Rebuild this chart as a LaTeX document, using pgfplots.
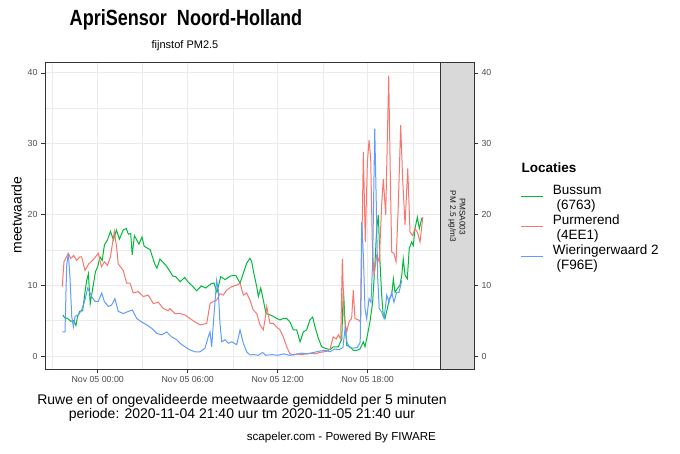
\documentclass[border=0pt]{standalone}
\usepackage{pgfplots}
\pgfplotsset{compat=1.18}
\usepackage{fontspec}
\setmainfont{Liberation Sans}
\definecolor{cBussum}{HTML}{00BA38}
\definecolor{cPurm}{HTML}{F8766D}
\definecolor{cWier}{HTML}{619CFF}
\definecolor{grid92}{gray}{0.92}
\definecolor{g20}{gray}{0.2}
\definecolor{g30}{gray}{0.3}
\definecolor{g10}{gray}{0.1}
\definecolor{g85}{gray}{0.85}

\pgfplotstableread{
x y
-2.33 5.8
-2.2 5.4
-2.0 5.3
-1.8 4.9
-1.6 5.0
-1.45 4.3
-1.35 5.5
-1.2 6.3
-1.0 6.4
-0.85 9.0
-0.73 10.7
-0.62 11.6
-0.5 7.4
-0.35 9.3
-0.15 11.9
0.0 12.6
0.15 14.0
0.3 13.5
0.45 15.7
0.65 16.4
0.85 17.6
1.05 16.4
1.25 17.8
1.45 16.5
1.7 17.8
1.9 18.0
2.05 17.2
2.2 17.3
2.3 14.3
2.45 17.0
2.75 15.8
2.95 16.8
3.1 15.5
3.5 15.0
3.8 13.0
3.95 12.4
4.15 13.7
4.55 12.8
4.8 12.0
5.0 11.3
5.2 11.2
5.5 10.5
5.8 11.1
6.05 10.4
6.35 9.8
6.6 9.2
6.9 9.9
7.2 9.6
7.55 10.2
7.75 10.3
7.95 9.0
8.2 11.2
8.5 10.8
8.85 11.3
9.2 11.4
9.49 10.3
9.71 11.7
9.93 13.1
10.15 13.8
10.27 13.3
10.37 12.1
10.6 9.8
10.71 8.4
10.87 9.6
11.04 7.9
11.22 6.0
11.49 5.8
11.71 5.6
11.93 5.3
12.15 5.1
12.37 5.3
12.6 5.3
12.82 4.8
13.04 3.7
13.27 3.7
13.49 2.0
13.71 3.4
13.93 3.7
14.15 5.1
14.33 5.5
14.49 4.1
14.71 2.5
14.93 1.3
15.15 1.1
15.49 0.9
15.7 1.3
16.04 1.3
16.27 2.4
16.38 9.5
16.49 4.8
16.6 1.5
16.82 1.3
17.04 0.8
17.27 0.8
17.49 1.0
17.71 2.0
17.82 1.3
17.93 2.4
18.15 4.8
18.33 7.6
18.49 13.3
18.6 18.0
18.71 19.9
18.82 13.3
18.93 8.6
19.04 5.7
19.15 5.3
19.31 6.7
19.44 8.1
19.6 8.6
19.71 10.9
19.82 9.0
19.97 9.5
20.15 10.0
20.27 11.4
20.37 13.7
20.49 11.4
20.64 10.9
20.77 15.2
20.93 16.1
21.04 15.6
21.15 18.0
21.31 19.6
21.44 18.0
21.6 19.4
21.67 19.6
}\bussum

\pgfplotstableread{
x y
-2.36 9.8
-2.25 13.3
-1.96 14.5
-1.8 13.8
-1.6 14.2
-1.4 13.5
-1.2 14.0
-1.07 14.0
-0.85 12.1
-0.6 13.0
-0.3 13.6
0.04 14.5
0.25 12.6
0.45 13.3
0.65 12.8
0.85 14.0
1.11 17.6
1.26 15.4
1.37 13.0
1.7 12.1
1.93 10.3
2.15 10.3
2.37 8.9
2.7 9.1
3.04 8.4
3.37 8.6
3.71 7.4
4.04 7.6
4.37 6.7
4.7 6.4
4.82 6.7
5.15 6.0
5.49 6.0
5.82 5.8
6.15 5.3
6.49 4.8
6.82 4.4
7.27 4.6
7.49 7.4
7.71 7.7
7.93 7.9
8.15 8.8
8.37 8.6
8.6 9.3
8.93 9.8
9.27 10.0
9.49 10.3
9.71 8.6
9.93 8.9
10.15 7.9
10.37 6.5
10.6 6.0
10.82 4.4
11.04 3.7
11.22 6.0
11.27 7.0
11.49 4.6
11.71 4.6
11.93 4.1
12.15 3.7
12.37 2.7
12.6 1.3
12.82 0.3
13.0 0.2
13.3 0.3
13.6 0.2
13.9 0.3
14.2 0.4
14.5 0.3
14.8 0.5
15.1 0.6
15.35 0.7
15.49 1.0
15.7 2.7
15.9 2.4
16.05 3.0
16.2 2.4
16.31 13.7
16.42 5.7
16.6 3.4
16.75 4.8
16.93 5.3
17.04 9.3
17.15 5.3
17.37 5.1
17.53 4.8
17.71 28.8
17.84 16.1
17.98 27.4
18.09 30.5
18.2 27.9
18.31 15.6
18.42 11.4
18.6 14.2
18.77 13.3
18.93 21.3
19.04 25.0
19.2 19.9
19.4 39.6
19.53 22.7
19.6 14.7
19.75 14.5
19.89 13.3
20.04 21.3
20.2 32.6
20.33 25.0
20.49 18.5
20.67 26.5
20.82 17.5
21.0 17.0
21.15 18.0
21.31 17.5
21.49 16.1
21.67 19.6
}\purmerend

\pgfplotstableread{
x y
-2.36 3.4
-2.18 3.4
-2.07 12.7
-1.96 14.5
-1.85 11.2
-1.73 5.6
-1.62 4.1
-1.51 5.6
-1.29 5.8
-1.07 6.5
-0.85 7.9
-0.67 9.6
-0.4 8.4
-0.18 7.7
0.04 7.7
0.27 8.9
0.44 7.7
0.71 7.0
0.93 7.2
1.15 8.1
1.37 6.3
1.71 6.0
2.04 6.3
2.31 6.5
2.6 5.3
2.93 4.8
3.27 4.4
3.6 3.9
3.93 3.2
4.27 3.0
4.6 3.4
4.93 2.7
5.27 2.3
5.49 1.8
5.82 1.3
6.15 0.85
6.49 0.6
6.82 0.6
7.15 1.1
7.37 2.7
7.49 3.4
7.6 1.3
7.71 4.6
7.93 10.7
8.04 9.3
8.15 4.6
8.27 2.0
8.49 2.3
8.71 1.8
8.93 2.0
9.27 1.6
9.49 3.7
9.71 1.8
9.93 0.6
10.15 0.15
10.4 0.2
10.7 0.1
11.0 0.5
11.2 0.1
11.6 0.2
12.0 0.1
12.4 0.3
12.8 0.1
13.2 0.2
13.6 0.4
14.0 0.3
14.4 0.5
14.8 0.7
15.2 0.8
15.49 0.6
15.8 1.0
16.1 0.9
16.35 1.2
16.49 3.9
16.62 1.9
16.8 1.2
17.0 1.1
17.3 1.2
17.5 1.9
17.6 18.9
17.71 14.2
17.82 6.7
17.93 5.3
18.09 8.1
18.22 7.6
18.33 13.3
18.47 32.1
18.57 21.8
18.67 10.9
18.77 6.7
18.93 6.2
19.09 5.3
19.27 8.6
19.42 7.6
19.6 9.0
19.75 7.6
19.93 9.0
20.09 9.0
20.27 10.7
}\wieringer

\begin{document}
\begin{tikzpicture}
\useasboundingbox (0,0) rectangle (680pt,453pt);
\begin{axis}[
  at={(45pt,84pt)}, anchor=south west,
  width=395pt, height=307pt, scale only axis,
  xmin=-3.513, xmax=22.82, ymin=-1.836, ymax=41.53,
  axis line style={g20, line width=0.7pt},
  xtick={0,6,12,18},
  xticklabels={Nov 05 00:00,Nov 05 06:00,Nov 05 12:00,Nov 05 18:00},
  minor xtick={-3,3,9,15,21},
  ytick={0,10,20,30,40}, minor ytick={5,15,25,35},
  grid=both,
  major grid style={grid92, line width=0.8pt},
  minor grid style={grid92, line width=0.4pt},
  tick align=outside, xtick pos=bottom, ytick pos=left,
  major tick length=4pt, minor tick length=0pt,
  tick style={g20, line width=0.6pt},
  ticklabel style={font=\fontsize{8.8}{10}\selectfont, text=g30},
  /pgf/number format/assume math mode=true,
  clip=true,
]
\addplot[cBussum, line width=1pt] table[x=x,y=y] {\bussum};
\addplot[cPurm, line width=1pt] table[x=x,y=y] {\purmerend};
\addplot[cWier, line width=1pt] table[x=x,y=y] {\wieringer};
\end{axis}
\begin{axis}[
  at={(440pt,84pt)}, anchor=south west,
  width=34pt, height=307pt, scale only axis,
  xmin=0, xmax=1, ymin=-1.836, ymax=41.53,
  axis background/.style={fill=g85},
  axis line style={g20, line width=0.7pt},
  xtick=\empty,
  ytick={0,10,20,30,40},
  tick align=outside, ytick pos=right,
  major tick length=4pt,
  tick style={g20, line width=0.6pt},
  ticklabel style={font=\fontsize{8.8}{10}\selectfont, text=g30},
  /pgf/number format/assume math mode=true,
]
\end{axis}
\node[rotate=-90, align=center, text=g10, font=\fontsize{8.2}{9.5}\selectfont] at (457pt,236.5pt) {PMSA003\\PM 2.5 µg/m3};
% titles
\node[anchor=base, inner sep=0pt] at (186pt,427pt) {\scalebox{0.82}[1]{\fontsize{22}{24}\selectfont\bfseries ApriSensor~~Noord-Holland}};
\node[anchor=base, font=\fontsize{11}{13}\selectfont] at (185pt,404.7pt) {fijnstof PM2.5};
\node[rotate=90, anchor=base, font=\fontsize{14}{16}\selectfont] at (21.5pt,238pt) {meetwaarde};
\node[anchor=base, font=\fontsize{14}{16}\selectfont] at (242pt,49pt) {Ruwe en of ongevalideerde meetwaarde gemiddeld per 5 minuten};
\node[anchor=base, font=\fontsize{14}{16}\selectfont] at (242pt,34.7pt) {periode: 2020-11-04 21:40 uur tm 2020-11-05 21:40 uur};
\node[anchor=base east, font=\fontsize{11.6}{13}\selectfont] at (439.5pt,13pt) {scapeler.com - Powered By FIWARE};
% legend
\node[anchor=base west, font=\fontsize{13.5}{15}\selectfont\bfseries] at (518pt,280.3pt) {Locaties};
\draw[cBussum, line width=1.1pt] (521pt,256.3pt) -- (543pt,256.3pt);
\draw[cPurm, line width=1.1pt] (521pt,226.3pt) -- (543pt,226.3pt);
\draw[cWier, line width=1.1pt] (521pt,196.5pt) -- (543pt,196.5pt);
\begin{scope}[font=\fontsize{13.5}{15}\selectfont]
\node[anchor=base west, inner sep=0pt] at (552.7pt,258.7pt) {Bussum};
\node[anchor=base west, inner sep=0pt] at (552.7pt,243pt) {\ (6763)};
\node[anchor=base west, inner sep=0pt] at (552.7pt,228.7pt) {Purmerend};
\node[anchor=base west, inner sep=0pt] at (552.7pt,213pt) {\ (4EE1)};
\node[anchor=base west, inner sep=0pt] at (552.7pt,198.7pt) {Wieringerwaard 2};
\node[anchor=base west, inner sep=0pt] at (552.7pt,183pt) {\ (F96E)};
\end{scope}
\end{tikzpicture}
\end{document}
